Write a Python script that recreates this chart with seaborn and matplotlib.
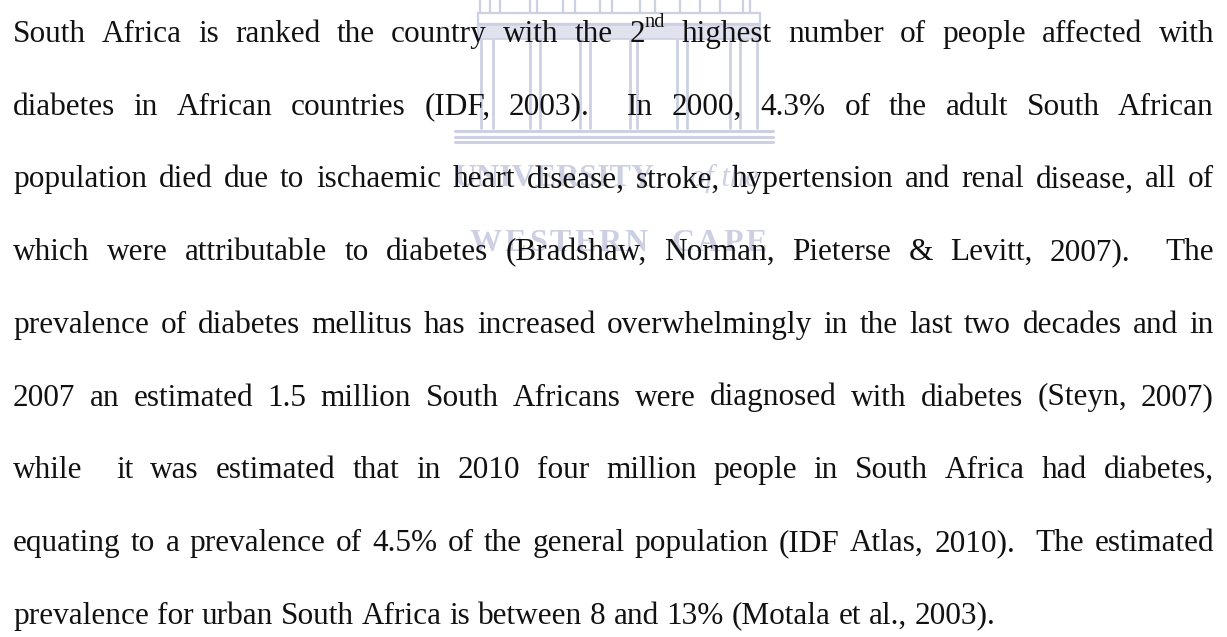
import matplotlib
matplotlib.use('Agg')
import matplotlib.pyplot as plt
import matplotlib.patches as mpatches
import seaborn as sns

# paragraph lines as they break in the page (double spaces kept, ^ marks superscript)
lines = [
    "South Africa is ranked the country with the 2^nd highest number of people affected with",
    "diabetes in African countries (IDF, 2003).  In 2000, 4.3% of the adult South African",
    "population died due to ischaemic heart disease, stroke, hypertension and renal disease, all of",
    "which were attributable to diabetes (Bradshaw, Norman, Pieterse & Levitt, 2007).  The",
    "prevalence of diabetes mellitus has increased overwhelmingly in the last two decades and in",
    "2007 an estimated 1.5 million South Africans were diagnosed with diabetes (Steyn, 2007)",
    "while  it was estimated that in 2010 four million people in South Africa had diabetes,",
    "equating to a prevalence of 4.5% of the general population (IDF Atlas, 2010).  The estimated",
    "prevalence for urban South Africa is between 8 and 13% (Motala et al., 2003).",
]

watermark_caps = "UNIVERSITY"
watermark_script = "of the"
watermark_bottom = "WESTERN CAPE"

# logo geometry (pixels)
column_x = [481, 493, 530, 540, 580, 590, 630, 637, 677, 687, 730, 740, 757]
roof_x = [480, 490, 500, 530, 537, 563, 575, 600, 612, 640, 655, 680, 700, 720, 743, 750]
step_y = [131, 137, 142]

sns.set_theme(style='white')
plt.rcParams['font.family'] = ['Liberation Serif', 'DejaVu Serif']

W, H = 1227, 637
LEFT, RIGHT = 13, 1214
BASE0, LEADING = 42, 72.7
FS = 22.5
WM = '#ccd0e2'

fig = plt.figure(figsize=(W / 100, H / 100), dpi=100)
ax = fig.add_axes([0, 0, 1, 1])
ax.set_xlim(0, W)
ax.set_ylim(H, 0)
ax.axis('off')

fig.canvas.draw()
renderer = fig.canvas.get_renderer()


def width_of(artist):
    return artist.get_window_extent(renderer).width


# --- faint university logo behind the text ---
for x in roof_x:
    ax.plot([x, x], [0, 13], color=WM, lw=1.6, zorder=1)
ax.add_patch(mpatches.Rectangle((478, 13), 282, 11, fill=False, ec=WM, lw=1.6, zorder=1))
ax.add_patch(mpatches.Rectangle((478, 25), 282, 14, fc='#e0e2ed', ec=WM, lw=1.2, zorder=1))
for x in column_x:
    ax.plot([x, x], [40, 128], color=WM, lw=2.0, zorder=1)
for y in step_y:
    ax.plot([455, 773], [y, y], color=WM, lw=2.2, zorder=1)

ax.text(453, 186, watermark_caps, fontsize=23, color=WM, ha='left', va='baseline',
        fontweight='bold', zorder=1)
ax.text(690, 186, watermark_script, fontsize=22, color=WM, ha='left', va='baseline',
        fontstyle='italic', zorder=1)

# letter-spaced "WESTERN CAPE" between x=470 and x=767
letters = []
for ch in watermark_bottom:
    t = ax.text(0, 251, ch if ch != ' ' else 'n', fontsize=23, color=WM, ha='left',
                va='baseline', fontweight='bold', zorder=1)
    letters.append((t, width_of(t), ch == ' '))
track = (767 - 470 - sum(w for _, w, _ in letters)) / (len(letters) - 1)
x = 470
for t, w, blank in letters:
    if blank:
        t.remove()
    else:
        t.set_x(x)
    x += w + track


def make_word(tok, x, y):
    """Draw a token at (x, y) baseline, return list of artists and its width."""
    if '^' in tok:
        base, sup = tok.split('^')
        t1 = ax.text(x, y, base, fontsize=FS, va='baseline', ha='left', color='#111111', zorder=3)
        w1 = width_of(t1)
        t2 = ax.text(x + w1, y - 15, sup, fontsize=FS * 0.65, va='baseline', ha='left',
                     color='#111111', zorder=3)
        return [t1, t2], w1 + width_of(t2)
    t = ax.text(x, y, tok, fontsize=FS, va='baseline', ha='left', color='#111111', zorder=3)
    return [t], width_of(t)


space_t = ax.text(0, -100, 'a a', fontsize=FS)
a_t = ax.text(0, -100, 'aa', fontsize=FS)
space_w = width_of(space_t) - width_of(a_t)
space_t.remove()
a_t.remove()

# justified paragraph, last line left-aligned
for i, line in enumerate(lines):
    y = BASE0 + i * LEADING
    toks = line.split(' ')
    placed = []
    total = 0
    for tok in toks:
        arts, w = make_word(tok, 0, y) if tok else ([], 0)
        placed.append((arts, w))
        total += w
    gaps = len(toks) - 1
    last = i == len(lines) - 1
    gap = space_w if last else (RIGHT - LEFT - total) / gaps
    x = LEFT
    for arts, w in placed:
        for a in arts:
            px, py = a.get_position()
            a.set_position((px + x, py))
        x += w + gap

fig.savefig('out.png', dpi=100, facecolor='white')
